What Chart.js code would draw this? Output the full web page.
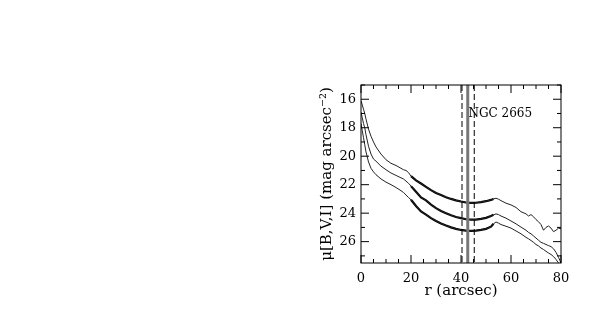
<!DOCTYPE html>
<html lang="en">
<head>
  <meta charset="UTF-8" />
  <title>NGC 2665 surface brightness profiles</title>
  <script src="https://cdn.jsdelivr.net/npm/chart.js"></script>
  <style>
    html, body { margin: 0; padding: 0; background: #fff; }
    #wrap { width: 598px; height: 318px; position: relative; }
  </style>
</head>
<body>
  <div id="wrap"><canvas id="profile"></canvas></div>

  <script>
    // radius (arcsec)
    const radius = [0, 0.5, 1, 1.5, 2, 3, 4, 5, 6, 8, 10, 12, 14, 16, 17, 18, 19, 20, 22, 24, 26, 28, 30, 32, 34, 36, 38, 40, 42, 44, 46, 48, 50, 52, 53, 54, 55, 56, 58, 60, 62, 64, 66, 67, 68, 69, 70, 71, 72, 73, 74, 75, 76, 77, 78, 79, 80];
    // surface brightness (mag arcsec^-2)
    const muI = [16.1, 16.4, 16.7, 17.0, 17.4, 18.1, 18.6, 19.0, 19.35, 19.85, 20.25, 20.5, 20.65, 20.85, 20.95, 21.0, 21.15, 21.4, 21.7, 21.92, 22.15, 22.38, 22.58, 22.73, 22.88, 23.0, 23.1, 23.18, 23.25, 23.28, 23.27, 23.22, 23.16, 23.07, 23.0, 22.95, 23.02, 23.12, 23.3, 23.42, 23.6, 23.9, 24.05, 24.2, 24.1, 24.25, 24.45, 24.6, 24.8, 25.2, 25.0, 24.9, 25.05, 25.3, 25.2, 25.05, 25.1];
    const muV = [16.9, 17.3, 17.7, 18.0, 18.5, 19.3, 19.85, 20.2, 20.35, 20.7, 20.95, 21.18, 21.35, 21.52, 21.6, 21.75, 21.9, 22.1, 22.5, 22.9, 23.1, 23.4, 23.65, 23.85, 24.0, 24.15, 24.27, 24.35, 24.43, 24.46, 24.45, 24.4, 24.33, 24.2, 24.12, 24.05, 24.1, 24.2, 24.35, 24.55, 24.75, 24.98, 25.2, 25.35, 25.45, 25.6, 25.75, 25.9, 26.05, 26.12, 26.2, 26.28, 26.35, 26.5, 26.75, 27.1, 27.5];
    const muB = [17.7, 18.2, 18.7, 19.2, 19.7, 20.4, 20.85, 21.1, 21.3, 21.6, 21.82, 22.0, 22.2, 22.42, 22.55, 22.72, 22.9, 23.06, 23.5, 23.88, 24.1, 24.35, 24.55, 24.72, 24.87, 25.0, 25.1, 25.18, 25.23, 25.25, 25.22, 25.17, 25.1, 24.95, 24.75, 24.62, 24.7, 24.8, 24.92, 25.05, 25.25, 25.45, 25.7, 25.8, 25.92, 26.05, 26.2, 26.3, 26.45, 26.55, 26.68, 26.8, 26.9, 27.05, 27.25, 27.5, 27.7];
    // fitted range drawn thick
    const fitRange = [20, 53];
    // vertical markers: dashed, solid, dashed
    const markerR = [40.4, 42.7, 45.3];
    const xTicks = [0, 20, 40, 60, 80];
    const yTicks = [16, 18, 20, 22, 24, 26];

    const pts = arr => radius.map((r, i) => ({ x: r, y: arr[i] }));
    const fitPts = arr => pts(arr).filter(p => p.x >= fitRange[0] && p.x <= fitRange[1]);

    const serif = "'DejaVu Serif', serif";

    const thin = { borderColor: '#222', borderWidth: 1, pointRadius: 0, tension: 0 };
    const thick = { borderColor: '#000', borderWidth: 2.2, pointRadius: 0, tension: 0 };

    const framePlugin = {
      id: 'frame',
      afterDatasetsDraw(chart) {
        const { ctx, chartArea: a, scales: { x, y } } = chart;
        ctx.save();
        // vertical marker lines
        markerR.forEach((r, i) => {
          const px = x.getPixelForValue(r);
          ctx.beginPath();
          if (i === 1) {
            ctx.strokeStyle = '#777';
            ctx.lineWidth = 3;
            ctx.setLineDash([]);
          } else {
            ctx.strokeStyle = '#000';
            ctx.lineWidth = 1;
            ctx.setLineDash([6, 3]);
          }
          ctx.moveTo(px, a.top);
          ctx.lineTo(px, a.bottom);
          ctx.stroke();
        });
        ctx.setLineDash([]);
        // frame
        ctx.strokeStyle = '#000';
        ctx.lineWidth = 1;
        ctx.strokeRect(a.left, a.top, a.right - a.left, a.bottom - a.top);
        // inward ticks on all sides
        ctx.beginPath();
        for (let v = 0; v <= 80; v += 5) {
          const px = x.getPixelForValue(v);
          const len = v % 20 === 0 ? 8 : 4;
          ctx.moveTo(px, a.bottom); ctx.lineTo(px, a.bottom - len);
          ctx.moveTo(px, a.top); ctx.lineTo(px, a.top + len);
        }
        for (let v = 15; v <= 27; v += 1) {
          const py = y.getPixelForValue(v);
          const len = v % 2 === 0 ? 8 : 4;
          ctx.moveTo(a.left, py); ctx.lineTo(a.left + len, py);
          ctx.moveTo(a.right, py); ctx.lineTo(a.right - len, py);
        }
        ctx.stroke();
        // label
        ctx.fillStyle = '#000';
        ctx.font = "12px " + serif;
        ctx.textBaseline = 'alphabetic';
        ctx.fillText('NGC 2665', x.getPixelForValue(43), y.getPixelForValue(17.25));
        ctx.restore();
      }
    };

    new Chart(document.getElementById('profile'), {
      type: 'line',
      data: {
        datasets: [
          { data: pts(muI), ...thin },
          { data: pts(muV), ...thin },
          { data: pts(muB), ...thin },
          { data: fitPts(muI), ...thick },
          { data: fitPts(muV), ...thick },
          { data: fitPts(muB), ...thick }
        ]
      },
      options: {
        responsive: true,
        maintainAspectRatio: false,
        animation: false,
        layout: { padding: { left: 318, right: 37, top: 85, bottom: 18 } },
        plugins: { legend: { display: false }, tooltip: { enabled: false } },
        scales: {
          x: {
            type: 'linear', min: 0, max: 80,
            afterBuildTicks: s => { s.ticks = xTicks.map(v => ({ value: v })); },
            afterFit: s => { s.height = 37; },
            grid: { display: false, drawTicks: false },
            border: { display: false },
            ticks: { color: '#000', padding: 8, font: { family: serif, size: 13 } },
            title: { display: true, text: 'r (arcsec)', color: '#000', padding: { top: -1, bottom: 0 }, font: { family: serif, size: 15 } }
          },
          y: {
            type: 'linear', min: 15, max: 27.5, reverse: true,
            afterBuildTicks: s => { s.ticks = yTicks.map(v => ({ value: v })); },
            afterFit: s => { s.width = 43; },
            grid: { display: false, drawTicks: false },
            border: { display: false },
            ticks: { color: '#000', padding: 5, font: { family: serif, size: 13 } },
            title: { display: true, text: 'μ[B,V,I] (mag arcsec⁻²)', color: '#000', padding: 0, font: { family: serif, size: 15 } }
          }
        }
      },
      plugins: [framePlugin]
    });
  </script>
</body>
</html>
